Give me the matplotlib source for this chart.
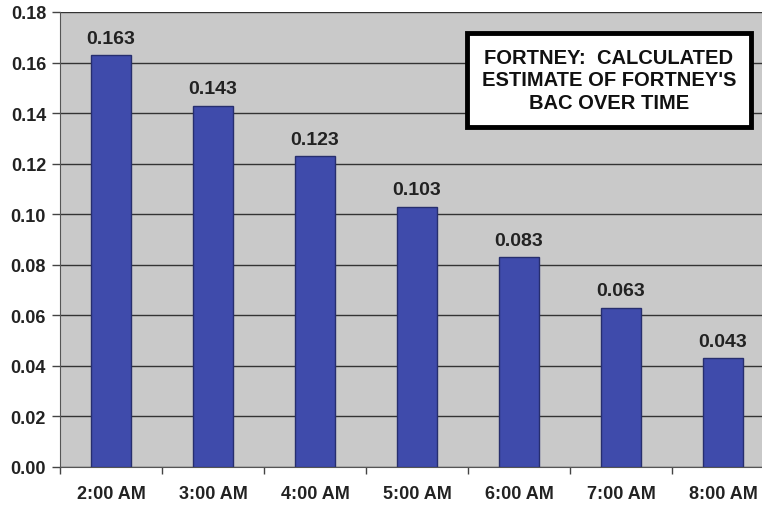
import matplotlib
matplotlib.use("Agg")
import matplotlib.pyplot as plt
from matplotlib.ticker import MultipleLocator, FixedLocator

categories = ["2:00 AM", "3:00 AM", "4:00 AM", "5:00 AM", "6:00 AM", "7:00 AM", "8:00 AM"]
bac = [0.163, 0.143, 0.123, 0.103, 0.083, 0.063, 0.043]
bar_labels = ["0.163", "0.143", "0.123", "0.103", "0.083", "0.063", "0.043"]
title_text = "FORTNEY:  CALCULATED\nESTIMATE OF FORTNEY'S\nBAC OVER TIME"

plt.rcParams['font.family'] = ['Liberation Sans', 'DejaVu Sans']

fig = plt.figure(figsize=(7.62, 5.06), dpi=100)
ax = fig.add_axes([60/762, 38/506, 714/762, 455/506])
ax.set_facecolor("#c9c9c9")

x = list(range(len(categories)))
ax.bar(x, bac, width=0.4, color="#3f4bab", edgecolor="#262e6e", linewidth=1.0, zorder=3)
for xi, v, lab in zip(x, bac, bar_labels):
    ax.text(xi, v + 0.0033, lab, ha="center", va="bottom", fontsize=14,
            fontweight="bold", color="#222222")

ax.set_xlim(-0.5, len(categories) - 0.5)
ax.set_ylim(0, 0.18)
ax.yaxis.set_major_locator(MultipleLocator(0.02))
ax.set_yticklabels([f"{t:.2f}" for t in ax.get_yticks()])
ax.yaxis.grid(True, color="#333333", linewidth=1.0, zorder=1)
ax.set_axisbelow(True)

ax.set_xticks(x)
ax.set_xticklabels(categories)
ax.xaxis.set_minor_locator(FixedLocator([i + 0.5 for i in range(-1, len(categories))]))
ax.tick_params(axis="x", which="major", length=0, pad=13, labelsize=13, labelcolor="#222222")
ax.tick_params(axis="x", which="minor", length=5, width=1, direction="out", color="#444444")
ax.tick_params(axis="y", length=6, width=1, direction="out", pad=4, labelsize=13, labelcolor="#222222", color="#444444")
for lbl in ax.get_xticklabels() + ax.get_yticklabels():
    lbl.set_fontweight("bold")

for s in ["top", "right"]:
    ax.spines[s].set_visible(False)
ax.spines["left"].set_color("#555555")
ax.spines["bottom"].set_color("#555555")

fig.text(609/762, 1 - 81/506, title_text, ha="center", va="center", fontsize=14.5,
         fontweight="bold", color="#111111", linespacing=1.25,
         bbox=dict(boxstyle="square,pad=0.72", facecolor="white", edgecolor="black", linewidth=3.5))

fig.savefig("out.png", dpi=100)
